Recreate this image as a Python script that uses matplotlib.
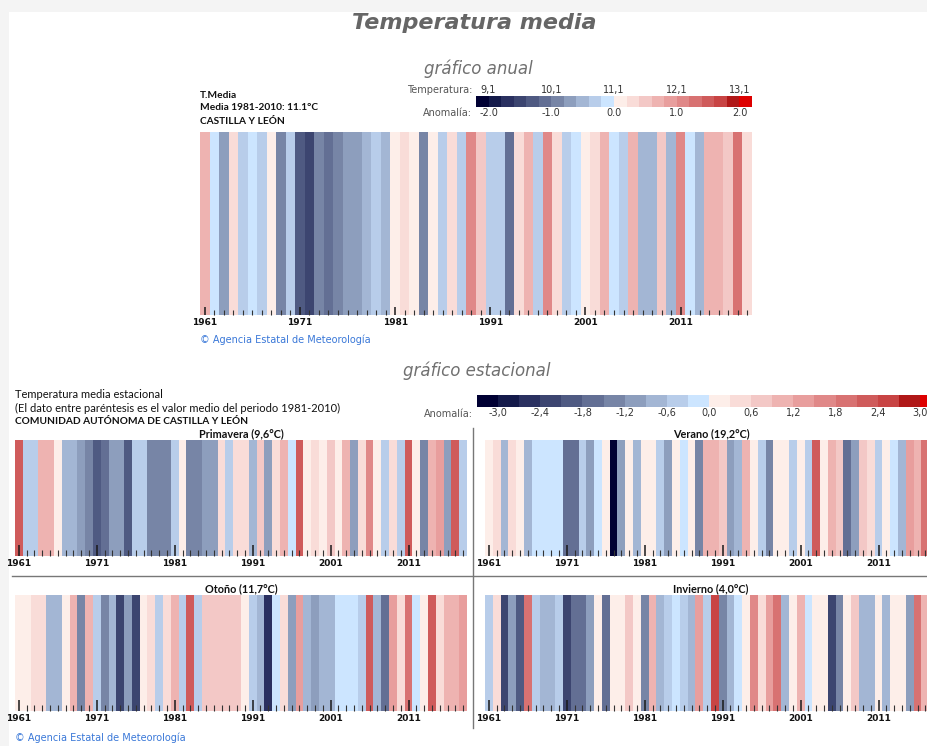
import numpy as np
import matplotlib
matplotlib.use("Agg")
import matplotlib.pyplot as plt
from matplotlib.colors import ListedColormap, BoundaryNorm
from matplotlib.patches import Rectangle
from matplotlib.lines import Line2D

years = np.arange(1961, 2019)

anual = [0.7, -0.1, -0.7, 0.3, -0.3, -0.1, -0.3, 0.1, -0.9, -0.3,
         -1.3, -1.5, -0.9, -1.1, -0.9, -0.7, -0.7, -0.5, -0.3, -0.5,
         0.1, 0.3, 0.1, -0.9, 0.1, -0.3, 0.3, -0.3, 1.1, 0.5,
         -0.3, -0.3, -1.1, 0.3, 0.7, -0.3, 1.1, 0.3, -0.3, -0.1,
         0.1, 0.3, 0.7, -0.1, -0.3, 0.7, -0.5, -0.5, 0.5, -0.5,
         1.1, -0.1, -0.5, 0.7, 0.7, 0.5, 1.3, 0.3]

primavera = [2.25, -0.45, -0.45, 1.05, 1.05, 0.15, -0.75, -0.75, -1.05, -1.35,
             -1.95, -1.65, -1.05, -1.05, -1.95, -0.45, -0.45, -1.35, -1.35, -1.35,
             -0.45, 0.15, -1.35, -1.35, -1.05, -1.05, 0.45, -0.45, 0.45, 0.45,
             -0.75, 0.75, -1.05, 0.45, 1.05, -0.15, 2.25, 0.15, 0.45, 0.15,
             0.75, 0.15, 1.05, -1.05, 0.45, 1.65, 0.15, -0.45, 0.45, -0.45,
             2.25, 0.15, -1.35, 1.05, 1.35, -1.05, 2.25, -0.45]

verano = [0.15, 0.45, -0.75, 0.45, 0.15, -0.75, -0.15, -0.15, -0.15, -0.15,
          -1.65, -1.65, -0.45, -1.05, -0.15, 0.15, -3.15, -1.05, 0.15, -0.75,
          0.15, 0.15, -0.45, -1.05, 0.15, -0.15, 0.15, -1.35, 1.05, 1.05,
          0.75, -1.05, -0.75, 1.05, 0.15, -0.45, -1.35, 0.15, 0.15, -0.45,
          0.15, -0.45, 2.25, 0.15, 1.05, 0.75, -1.65, -1.05, 0.75, 0.45,
          -0.45, 0.15, -0.15, -0.75, 1.35, 1.05, 1.95, 0.75]

otono = [0.15, 0.15, 0.45, 0.45, -0.75, -0.75, 0.15, 1.05, -1.35, 1.05,
         -0.45, -1.35, -0.75, -2.25, -1.05, -2.25, 0.15, 0.45, -0.45, 0.45,
         1.05, -0.45, 2.25, -0.45, 0.75, 0.75, 0.75, 0.75, 0.75, 0.15,
         -0.45, -0.75, -2.55, -0.15, 0.45, -1.05, 1.35, -0.75, -1.05, -0.75,
         -0.75, -0.15, -0.15, -0.15, -0.45, 2.25, -0.75, -1.65, 1.35, 0.45,
         1.95, -0.15, 0.15, 2.25, 0.45, 1.05, 1.05, 1.35]

invierno = [-0.45, 0.45, -2.25, -1.05, -1.95, 1.95, -0.45, -0.75, -0.75, -0.45,
            -2.25, -1.65, -1.65, -1.05, 0.15, -1.65, 0.15, 0.15, 0.75, 0.15,
            -1.35, 1.05, -0.75, -0.45, -0.15, -0.45, -0.75, 1.35, -0.45, 2.55,
            -1.35, -0.75, -0.15, 0.15, 1.65, 0.45, 1.35, 1.95, -0.75, 0.15,
            1.05, -0.15, 0.15, 0.15, -2.25, -1.35, 0.15, 0.75, -0.75, -0.75,
            0.15, -0.75, 0.15, 0.15, -1.05, 1.95, 1.05, -0.45]

seasons = ["Primavera (9,6°C)", "Verano (19,2°C)", "Otoño (11,7°C)", "Invierno (4,0°C)"]

anual_ticks = [-2.0, -1.0, 0.0, 1.0, 2.0]
anual_anom_labels = ["-2.0", "-1.0", "0.0", "1.0", "2.0"]
anual_temp_labels = ["9,1", "10,1", "11,1", "12,1", "13,1"]
est_ticks = [-3.0, -2.4, -1.8, -1.2, -0.6, 0.0, 0.6, 1.2, 1.8, 2.4, 3.0]
est_labels = ["-3,0", "-2,4", "-1,8", "-1,2", "-0,6", "0,0", "0,6", "1,2", "1,8", "2,4", "3,0"]

palette = ["#000033", "#141a4a", "#2a3060", "#3c4570", "#4f5a82", "#636f94",
           "#7785a6", "#8d9ebd", "#a3b6d4", "#b8cdea", "#cce5ff",
           "#fdeee9", "#f9dcd8", "#f3c8c6", "#eeb3b1", "#e89e9d", "#e08888",
           "#d87272", "#cf5b5b", "#c84444", "#b01818", "#dd0000"]
cmap = ListedColormap(palette)
norm_anual = BoundaryNorm(np.linspace(-2.2, 2.2, 23), cmap.N)
norm_est = BoundaryNorm(np.linspace(-3.3, 3.3, 23), cmap.N)

W, H = 928, 746
SMALL = ["Lato", "DejaVu Sans"]


def box(x, y, w, h):
    return [x / W, 1 - (y + h) / H, w / W, h / H]


fig = plt.figure(figsize=(W / 100, H / 100), dpi=100, facecolor="#f4f4f4")
fig.patches.append(Rectangle((9 / W, 0), 1, 1 - 12 / H, transform=fig.transFigure,
                             facecolor="white", edgecolor="none", zorder=-10))


def ftext(x, y, s, **kw):
    fig.text(x / W, 1 - y / H, s, **kw)


def stripes(ax, vals, norm, major_len, minor_len):
    ax.bar(years, np.ones(len(years)), width=1.0, color=cmap(norm(vals)), linewidth=0)
    ax.set_xlim(years[0] - 0.5, years[-1] + 0.5)
    ax.set_ylim(0, 1)
    ax.set_yticks([])
    ax.set_facecolor("none")
    for s in ax.spines.values():
        s.set_visible(False)
    ax.set_xticks(np.arange(1961, 2019, 10))
    ax.set_xticks(years, minor=True)
    ax.tick_params(axis="x", which="major", direction="in", length=major_len, width=1.1,
                   color="#1a1a1a", labelsize=6.5, labelcolor="#111111", pad=2)
    ax.tick_params(axis="x", which="minor", direction="in", length=minor_len, width=0.8,
                   color="#333333")
    for lab in ax.get_xticklabels():
        lab.set_fontweight("bold")


def colorbar(ax, lo, hi, ticks, labels):
    edges = np.linspace(lo, hi, 23)
    centers = (edges[:-1] + edges[1:]) / 2
    ax.bar(centers, np.ones(22), width=edges[1] - edges[0], color=palette, linewidth=0)
    ax.set_xlim(lo, hi)
    ax.set_ylim(0, 1)
    ax.set_yticks([])
    for s in ax.spines.values():
        s.set_visible(False)
    ax.set_xticks(ticks, labels)
    ax.tick_params(axis="x", length=0, labelsize=7, labelcolor="#333333", pad=1)


# ---- titles ----
ftext(474, 23, "Temperatura media", ha="center", va="center", fontsize=16,
      fontweight="bold", style="italic", color="#666666")
ftext(478, 69, "gráfico anual", ha="center", va="center", fontsize=12,
      style="italic", color="#707070")
ftext(477, 371, "gráfico estacional", ha="center", va="center", fontsize=12,
      style="italic", color="#707070")

# ---- annual block ----
ftext(200, 95, "T.Media", fontsize=7.3, fontweight="bold", family=SMALL, va="center", color="#111111")
ftext(200, 108, "Media 1981-2010: 11.1°C", fontsize=7.3, fontweight="bold", family=SMALL,
      va="center", color="#111111")
ftext(200, 121, "CASTILLA Y LEÓN", fontsize=7.3, fontweight="bold", family=SMALL,
      va="center", color="#111111")

cax = fig.add_axes(box(476, 96, 276, 11))
colorbar(cax, -2.2, 2.2, anual_ticks, anual_anom_labels)
top = cax.secondary_xaxis("top")
top.set_xticks(anual_ticks, anual_temp_labels)
top.tick_params(length=0, labelsize=7, labelcolor="#333333", pad=1)
top.spines["top"].set_visible(False)
ftext(472, 90, "Temperatura:", ha="right", va="center", fontsize=7, color="#555555")
ftext(472, 113, "Anomalía:", ha="right", va="center", fontsize=7, color="#555555")

ax = fig.add_axes(box(200, 132, 552, 183))
stripes(ax, anual, norm_anual, 6, 3.5)
ftext(200, 340, "© Agencia Estatal de Meteorología", va="center", fontsize=7,
      color="#3a78d8")

# ---- seasonal block ----
ftext(15, 395, "Temperatura media estacional", fontsize=8, family=SMALL, va="center", color="#111111")
ftext(15, 408, "(El dato entre paréntesis es el valor medio del periodo 1981-2010)",
      fontsize=8, family=SMALL, va="center", color="#111111")
ftext(15, 421, "COMUNIDAD AUTÓNOMA DE CASTILLA Y LEÓN", fontsize=7.3, fontweight="bold",
      family=SMALL, va="center", color="#111111")

sax = fig.add_axes(box(477, 395, 464, 12))
colorbar(sax, -3.3, 3.3, est_ticks, est_labels)
ftext(473, 414, "Anomalía:", ha="right", va="center", fontsize=7, color="#555555")

series = [primavera, verano, otono, invierno]
spots = [(15, 440), (485, 440), (15, 595), (485, 595)]
for name, vals, (x0, y0) in zip(seasons, series, spots):
    a = fig.add_axes(box(x0, y0, 452, 116))
    stripes(a, vals, norm_est, 8, 4)
    a.set_title(name, fontsize=7.8, fontweight="bold", family=SMALL, pad=2, color="#111111")

fig.add_artist(Line2D([12 / W, 1], [1 - 576 / H] * 2, color="#777777", lw=1))
fig.add_artist(Line2D([473 / W] * 2, [1 - 428 / H, 1 - 728 / H], color="#777777", lw=1))

ftext(15, 738, "© Agencia Estatal de Meteorología", va="center", fontsize=7,
      color="#3a78d8")

fig.savefig("out.png", dpi=100, facecolor=fig.get_facecolor())
